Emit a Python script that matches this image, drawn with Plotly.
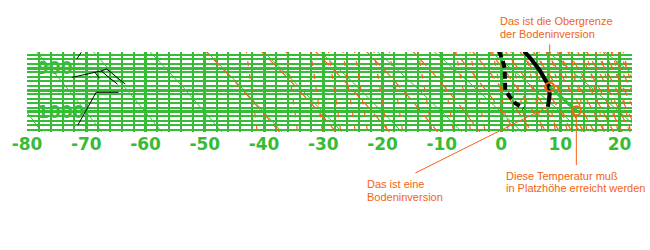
import numpy as np
import plotly.graph_objects as go

# ---------------- data ----------------
# temperature sounding (deg C) and pressure (hPa)
TEMP_C = [3.9, 5.1, 6.5, 7.3, 8.1, 8.2, 7.9]
TEMP_P = [862, 880, 905, 923, 942, 961, 988]
# dew point sounding
DEW_C = [-0.4, 0.2, 0.6, 0.6, 0.7, 1.4, 2.4, 3.8]
DEW_P = [861, 880, 900, 927, 950, 964, 980, 992]
# top of the ground inversion and the surface temperature to be reached
INV_TOP_T, INV_TOP_P = 8.2, 943
SFC_T, SFC_P = 12.7, 997
# wind-barb strokes (T, p pairs)
BARB_T = [[-71.6, -70.85], [-72.35, -68.9, -67.5, -66.56], [-68.62, -67.78],
          [-67.5, -64.72], [-66.56, -63.43], [-68.33, -64.55], [-68.33, -71.41]]
BARB_P = [[879.5, 864.3], [921.1, 912.0, 906.8, 902.3], [908.4, 923.4],
          [906.8, 937.0], [902.3, 936.4], [955.2, 955.2], [955.2, 1029.5]]
# diagram reference lines
THETA_C = list(range(-80, 40, 10))                       # dry adiabats
THETAE_C = [-40, -30, -20, -10, 0, 10] + list(range(15, 85, 5))  # saturated adiabats
MIXR_GKG = [0.1, 0.2, 0.3, 0.4, 0.5, 0.6, 0.8, 1, 1.5, 2, 2.5, 3, 4, 5, 6, 7,
            8, 9, 10, 12, 14, 16, 18, 20]
X_TICKS = list(range(-80, 21, 10))
X_TICKTEXT = [str(v) for v in X_TICKS]
X_MINOR = list(range(-80, 23, 2))
Y_MAJOR = [900, 950, 1000]
Y_LABELS = [(900, "900"), (1000, "1000")]
Y_MINOR = list(range(870, 1041, 10))
NOTE_TOP = ["Das ist die Obergrenze", "der Bodeninversion"]
NOTE_INV = ["Das ist eine", "Bodeninversion"]
NOTE_SFC = ["Diese Temperatur muß", "in Platzhöhe erreicht werden"]

GREEN = "#36BC36"
ORANGE = "#F06414"

P = np.linspace(855, 1050, 60)


def es(tc):
    return 6.112 * np.exp(17.67 * tc / (tc + 243.5))


def theta_e(tc, p):
    tk = tc + 273.15
    e = es(tc)
    w = 0.622 * e / (p - e)
    return tk * (1000.0 / p) ** 0.286 * np.exp(2.5e6 * w / (1004.0 * tk))


def join(xs, ys):
    X, Y = [], []
    for x, y in zip(xs, ys):
        X += list(x) + [None]
        Y += list(y) + [None]
    return X, Y


# dry adiabats
dx, dy = [], []
for th in THETA_C:
    dx.append((th + 273.15) * (P / 1000.0) ** 0.286 - 273.15)
    dy.append(P)
DX, DY = join(dx, dy)

# saturated adiabats (constant theta-e), solved by bisection
mx, my = [], []
for the in THETAE_C:
    target = the + 273.15
    lo = np.full_like(P, -110.0)
    hi = np.full_like(P, 45.0)
    for _ in range(60):
        mid = 0.5 * (lo + hi)
        f = theta_e(mid, P) > target
        hi = np.where(f, mid, hi)
        lo = np.where(f, lo, mid)
    mx.append(0.5 * (lo + hi))
    my.append(P)
MX, MY = join(mx, my)

# mixing-ratio lines
wx, wy = [], []
for w in MIXR_GKG:
    e = w * P / (622.0 + w)
    l = np.log(e / 6.112)
    wx.append(243.5 * l / (17.67 - l))
    wy.append(P)
WX, WY = join(wx, wy)

BX, BY = join(BARB_T, BARB_P)

fig = go.Figure()
fig.add_trace(go.Scatter(x=DX, y=DY, mode="lines", line=dict(color=GREEN, width=1),
                         hoverinfo="skip"))
fig.add_trace(go.Scatter(x=MX, y=MY, mode="lines",
                         line=dict(color=ORANGE, width=1.2, dash="9px,6px"), hoverinfo="skip"))
fig.add_trace(go.Scatter(x=WX, y=WY, mode="lines",
                         line=dict(color=ORANGE, width=1.2, dash="5px,8px"), hoverinfo="skip"))
fig.add_trace(go.Scatter(x=BX, y=BY, mode="lines", line=dict(color="black", width=1),
                         hoverinfo="skip"))
fig.add_trace(go.Scatter(x=DEW_C, y=DEW_P, mode="lines",
                         line=dict(color="black", width=4, dash="7px,4px")))
fig.add_trace(go.Scatter(x=TEMP_C, y=TEMP_P, mode="lines", line=dict(color="black", width=4)))
fig.add_trace(go.Scatter(x=[INV_TOP_T, SFC_T], y=[INV_TOP_P, SFC_P], mode="lines",
                         line=dict(color=GREEN, width=3)))
fig.add_trace(go.Scatter(x=[INV_TOP_T, SFC_T], y=[INV_TOP_P, SFC_P], mode="markers",
                         marker=dict(symbol="circle-open", size=9, color=ORANGE,
                                     line=dict(color=ORANGE, width=2))))

W_PLOT, H_PLOT, L, T = 610, 80, 22, 52


def px(x):
    return (x - L) / W_PLOT


def py(y):
    return (T + H_PLOT - y) / H_PLOT


tick_font = dict(family="DejaVu Sans", size=17, color=GREEN, weight="bold")
note_font = dict(family="Liberation Sans, Arial", size=11, color=ORANGE)
ann = []
for pv, txt in Y_LABELS:
    ann.append(dict(text=txt, xref="paper", yref="y", x=px(31), y=pv, xanchor="left",
                    yanchor="middle", showarrow=False, font=tick_font, borderpad=0))
for txt, x0, y0 in [(NOTE_TOP[0], 498, 21), (NOTE_TOP[1], 498, 34),
                    (NOTE_INV[0], 364, 183.5), (NOTE_INV[1], 364, 196.5),
                    (NOTE_SFC[0], 504, 175.5), (NOTE_SFC[1], 504, 188)]:
    ann.append(dict(text=txt, xref="paper", yref="paper", x=px(x0), y=py(y0),
                    xanchor="left", yanchor="middle", showarrow=False,
                    font=note_font, borderpad=0))
for x, y, ax, ay, so in [(INV_TOP_T, INV_TOP_P, 0, -44, 5),
                         (TEMP_C[-1], TEMP_P[-1], -134, 67, 0),
                         (SFC_T, SFC_P, 0, 56, 5)]:
    ann.append(dict(text="", x=x, y=y, xref="x", yref="y", ax=ax, ay=ay,
                    showarrow=True, arrowhead=0, arrowwidth=1, arrowcolor=ORANGE,
                    standoff=so))

fig.update_layout(
    width=650, height=250, margin=dict(l=L, r=650 - L - W_PLOT, t=T, b=250 - T - H_PLOT, pad=0),
    paper_bgcolor="white", plot_bgcolor="white", showlegend=False,
    annotations=ann,
    xaxis=dict(range=[-80.001, -80 + W_PLOT / 5.975], tickvals=X_TICKS, ticktext=X_TICKTEXT,
               showgrid=True, ticklabeloverflow="allow",
               gridcolor=GREEN, gridwidth=3, zeroline=False, showline=False,
               ticks="", tickfont=tick_font,
               minor=dict(tickvals=X_MINOR, showgrid=True, gridcolor=GREEN, gridwidth=1.5)),
    yaxis=dict(range=[1045.5, 863.6], tickvals=Y_MAJOR, showticklabels=False, showgrid=True,
               gridcolor=GREEN, gridwidth=3, zeroline=False, showline=False, ticks="",
               minor=dict(tickvals=Y_MINOR, showgrid=True, gridcolor=GREEN, gridwidth=2)),
)
fig.write_html("out.html")
